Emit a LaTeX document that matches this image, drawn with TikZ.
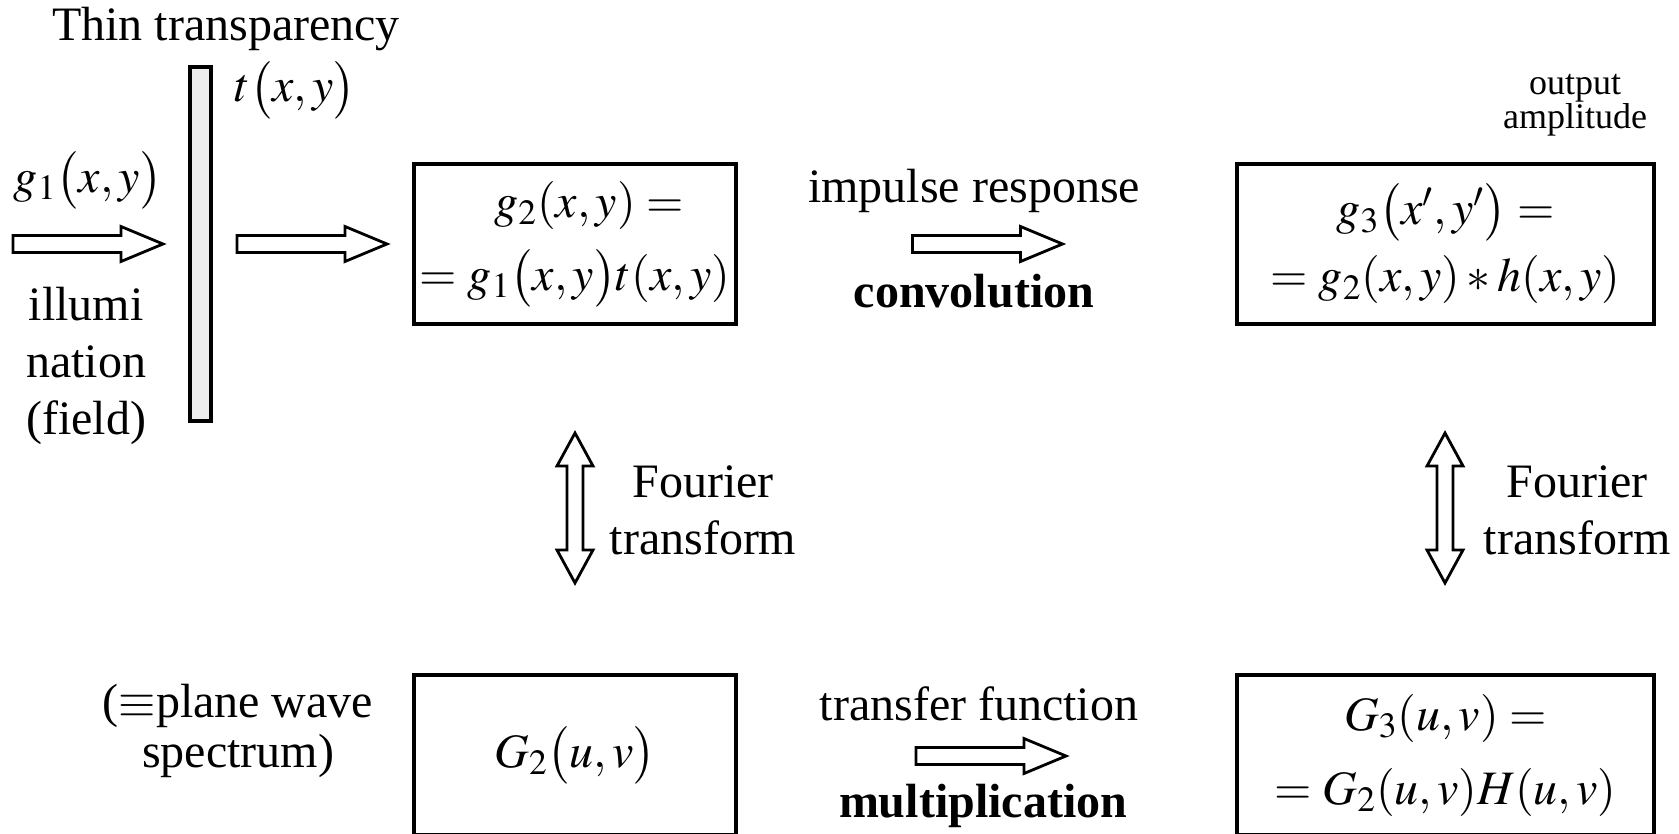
\documentclass[tikz,border=0pt]{standalone}
\usepackage{mathptmx}
\usepackage{fontspec}
\setmainfont{Liberation Serif}
\begin{document}
\begin{tikzpicture}[
  x=0.5pt, y=-0.5pt,
  txt/.style={font=\fontsize{24}{28.5}\selectfont, inner sep=0pt, align=center},
  small/.style={font=\fontsize{18}{17}\selectfont, inner sep=0pt, align=center},
  boxnode/.style={draw, line width=1.6pt, inner sep=0pt, align=center,
    minimum height=80pt},
  arrowline/.style={draw, line width=1.4pt, fill=white, line join=miter},
  rarrow/.pic={\path[arrowline] (-75,-8.5) -- (33,-8.5) -- (33,-17.5) -- (75,0)
      -- (33,17.5) -- (33,8.5) -- (-75,8.5) -- cycle;},
  udarrow/.pic={\path[arrowline] (0,-75) -- (18,-42) -- (8,-42) -- (8,42)
      -- (18,42) -- (0,75) -- (-18,42) -- (-8,42) -- (-8,-42) -- (-18,-42) -- cycle;}
]
\useasboundingbox (0,0) rectangle (1679,834);
\clip (0,0) rectangle (1679,834);

% transparency
\path[draw, line width=1.6pt, fill=gray!14] (190,67) rectangle (211,421);
\node[txt, anchor=base] (thin) at (226,41) {Thin transparency};
\node[txt] (tlab) at (295,90) {$t\big(x,y\big)$};
\node[txt] (g1lab) at (88,180) {$g_1\big(x,y\big)$};
\node[txt] (illum) at (86,366) {illumi\\nation\\(field)};
\pic at (88,244) {rarrow};
\pic at (312,244) {rarrow};

% top boxes
\node[boxnode, minimum width=161pt, font=\fontsize{24}{36.5}\selectfont] (b1) at (575,244)
  {\hspace*{14pt}$g_2(x,y)=$\\$=g_1\big(x,y\big)t(x,y)$};
\node[boxnode, minimum width=208.5pt, font=\fontsize{24}{33.5}\selectfont] (b3) at (1445.5,244)
  {$g_3\big(x',y'\big)=$\\$=g_2(x,y)*h(x,y)$};
\node[small] (outamp) at (1575,105) {output\\amplitude};

% convolution
\node[txt, anchor=base] (imp) at (974,203) {impulse response};
\pic at (987.5,244) {rarrow};
\node[txt, anchor=base, font=\fontsize{24}{28.5}\selectfont\bfseries] (conv) at (974,307) {convolution};

% Fourier arrows
\pic at (575,508) {udarrow};
\node[txt] (ft1) at (703,510) {Fourier\\transform};
\pic at (1445,508) {udarrow};
\node[txt] (ft2) at (1577,510) {Fourier\\transform};

% bottom boxes
\node[boxnode, minimum width=161pt, font=\fontsize{24}{36.5}\selectfont] (b2) at (575,755)
  {$G_2\big(u,v\big)$};
\node[boxnode, minimum width=208.5pt, font=\fontsize{24}{37}\selectfont] (b4) at (1445.5,755)
  {$G_3(u,v)=$\\$=G_2(u,v)H(u,v)$};
\node[txt, font=\fontsize{24}{25}\selectfont] (pws) at (238,731) {($\equiv$plane wave\\spectrum)};

% multiplication
\node[txt, anchor=base] (tf) at (979,720) {transfer function};
\pic at (991,756) {rarrow};
\node[txt, anchor=base, font=\fontsize{24}{28.5}\selectfont\bfseries] (mult) at (983,817) {multiplication};
\end{tikzpicture}
\end{document}
